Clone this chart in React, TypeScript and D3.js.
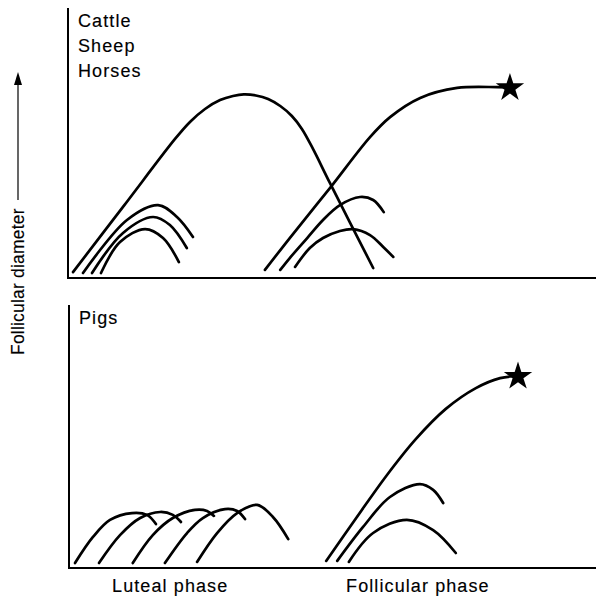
import React from 'react';
import * as d3 from 'd3';

type Pt = [number, number];

// ---- Data (arbitrary units: x = time in cycle 0-100, y = follicular diameter 0-100) ----
const speciesTop = ['Cattle', 'Sheep', 'Horses'];
const speciesBottom = ['Pigs'];
const phaseLabels = ['Luteal phase', 'Follicular phase'];
const yAxisLabel = 'Follicular diameter';

// Cattle / Sheep / Horses
const topLutealDominant: Pt[] = [
  [0.95, 2.2], [10.6, 26.8], [20.27, 51.5], [23.1, 57.8], [25.95, 62.6], [28.8, 65.9],
  [31.25, 67.4], [33.3, 68.0], [35.6, 67.6], [37.9, 66.3], [40.2, 63.7], [42.4, 60.0],
  [44.3, 55.2], [46.4, 47.8], [49.6, 35.2], [57.8, 3.7],
];
const topLutealSubordinates: Pt[][] = [
  [[2.84, 1.85], [11.17, 21.5], [17.05, 27.0], [20.64, 22.6], [23.67, 15.2]],
  [[4.55, 1.85], [10.42, 16.7], [16.1, 22.6], [19.3, 19.6], [22.5, 11.1]],
  [[6.25, 1.85], [9.85, 13.3], [14.6, 18.1], [18.0, 14.8], [21.0, 5.9]],
];
const topFollicularOvulatory: Pt[] = [
  [37.3, 3.0], [42.0, 14.8], [49.6, 33.3], [57.2, 52.2], [61.0, 59.6],
  [66.7, 66.7], [73.7, 70.4], [81.25, 70.7], [83.7, 70.6],
];
const topFollicularSubordinates: Pt[][] = [
  [[40.2, 3.0], [42.0, 7.4], [45.3, 14.8], [48.3, 21.5], [51.5, 27.0], [55.3, 30.0], [57.8, 28.9], [59.8, 24.4]],
  [[43.0, 4.1], [45.8, 11.1], [48.3, 14.8], [51.5, 17.4], [54.0, 18.1], [57.2, 15.9], [59.7, 11.5], [61.6, 7.8]],
];
const topOvulation: Pt = [83.7, 70.4];

// Pigs
const pigLutealWaves: Pt[][] = [
  [[1.14, 1.9], [4.55, 11.8], [7.78, 18.3], [11.95, 20.9], [14.8, 20.2], [16.5, 16.7]],
  [[5.69, 1.9], [9.68, 12.5], [13.5, 19.0], [17.3, 21.3], [19.7, 20.2], [21.25, 17.5]],
  [[12.1, 1.9], [15.9, 12.5], [19.7, 19.0], [23.9, 22.1], [26.2, 21.7], [27.5, 19.8]],
  [[18.2, 1.9], [22.4, 13.3], [25.4, 19.0], [29.6, 22.4], [31.9, 21.7], [33.4, 18.6]],
  [[24.3, 2.3], [28.1, 13.3], [31.9, 20.9], [35.7, 24.0], [38.7, 19.4], [41.6, 11.0]],
];
const pigFollicularOvulatory: Pt[] = [
  [48.8, 2.7], [54.5, 19.0], [60.2, 35.0], [65.8, 49.0], [71.5, 60.5],
  [77.2, 68.4], [81.8, 72.2], [85.2, 73.0],
];
const pigFollicularSubordinates: Pt[][] = [
  [[50.9, 2.7], [55.8, 15.6], [60.9, 27.0], [66.6, 31.9], [69.1, 29.7], [71.0, 24.7]],
  [[53.1, 2.3], [57.7, 13.3], [64.1, 18.3], [69.1, 14.4], [73.4, 5.7]],
];
const pigOvulation: Pt = [85.2, 72.8];

// ---- Layout ----
const W = 596;
const H = 600;
const FONT = '"Liberation Sans", Arial, Helvetica, sans-serif';

const topX = d3.scaleLinear().domain([0, 100]).range([68, 596]);
const topY = d3.scaleLinear().domain([0, 100]).range([278, 8]);
const botX = d3.scaleLinear().domain([0, 100]).range([69, 596]);
const botY = d3.scaleLinear().domain([0, 100]).range([568, 305]);

const starPath = d3.symbol().type(d3.symbolStar).size(250)() as string;

const textStyle = {
  fontFamily: FONT,
  fontSize: 18,
  letterSpacing: 1.1,
  fill: '#000',
  stroke: '#000',
  strokeWidth: 0.15,
};

function Panel({
  x, y, curves, star, labels,
}: {
  x: d3.ScaleLinear<number, number>;
  y: d3.ScaleLinear<number, number>;
  curves: Pt[][];
  star: Pt;
  labels: string[];
}) {
  const line = d3
    .line<Pt>()
    .x((d) => x(d[0]))
    .y((d) => y(d[1]))
    .curve(d3.curveCatmullRom.alpha(0.5));
  const [x0, x1] = x.range();
  const [y0, y1] = y.range();
  return (
    <g>
      <line x1={x0} x2={x0} y1={y0 + 1} y2={y1} stroke="#000" strokeWidth={2} />
      <line x1={x0} x2={x1} y1={y0} y2={y0} stroke="#000" strokeWidth={2.2} />
      {labels.map((t, i) => (
        <text key={t} x={x0 + 10} y={y1 + 19 + i * 25} {...textStyle}>
          {t}
        </text>
      ))}
      {curves.map((c, i) => (
        <path
          key={i}
          d={line(c) as string}
          fill="none"
          stroke="#000"
          strokeWidth={2.7}
          strokeLinecap="round"
        />
      ))}
      <path d={starPath} transform={`translate(${x(star[0])},${y(star[1])})`} fill="#000" />
    </g>
  );
}

export default function App() {
  const labelY = 592;
  return (
    <svg
      width={W}
      height={H}
      viewBox={`0 0 ${W} ${H}`}
      style={{ position: 'absolute', left: 0, top: 0, background: '#fff' }}
    >
      <rect width={W} height={H} fill="#fff" />
      <Panel
        x={topX}
        y={topY}
        curves={[topLutealDominant, ...topLutealSubordinates, topFollicularOvulatory, ...topFollicularSubordinates]}
        star={topOvulation}
        labels={speciesTop}
      />
      <Panel
        x={botX}
        y={botY}
        curves={[...pigLutealWaves, pigFollicularOvulatory, ...pigFollicularSubordinates]}
        star={pigOvulation}
        labels={speciesBottom}
      />
      <text x={botX(19.2)} y={labelY} textAnchor="middle" {...textStyle}>
        {phaseLabels[0]}
      </text>
      <text x={botX(66.2)} y={labelY} textAnchor="middle" {...textStyle}>
        {phaseLabels[1]}
      </text>
      {/* Y axis label with arrow */}
      <g transform="translate(24,355) rotate(-90)">
        <text x={0} y={0} {...textStyle} fontSize={17.5} letterSpacing={0.2}>
          {yAxisLabel}
        </text>
        <line x1={155} x2={272} y1={-6} y2={-6} stroke="#000" strokeWidth={1.2} />
        <path d="M 270 -10 L 283 -6 L 270 -2 Z" fill="#000" />
      </g>
    </svg>
  );
}
